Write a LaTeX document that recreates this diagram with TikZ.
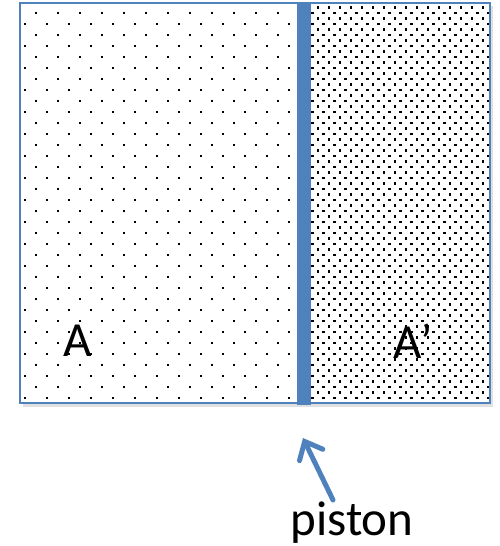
\documentclass[tikz,border=0pt]{standalone}
\usepackage{fontspec}
\setmainfont{Carlito}
\usetikzlibrary{arrows.meta}
\definecolor{offblue}{HTML}{4F81BD}
\tikzset{
  box/.style={draw=offblue, line width=1.5pt},
  dotmark/.style={fill=black},
  lbl/.style={font=\fontsize{49}{56}\selectfont, inner sep=0pt},
  ptr/.style={draw=offblue, line width=5pt, line cap=round, -{Straight Barb[length=15pt,width=26pt,line cap=round]}}
}
\begin{document}
\begin{tikzpicture}[x=1pt,y=-1pt]
\useasboundingbox (0,0) rectangle (500,546);
% shadow
\fill[black!12] (23,6) rectangle (493,407);
\fill[white] (20,3) rectangle (490,403);
% left sparse dots
\begin{scope}
\clip (20,3) rectangle (297,403);
\foreach \k in {0,...,35} {
  \pgfmathsetmacro{\yy}{13+11*\k}
  \pgfmathsetmacro{\xo}{mod(\k,2)==0 ? 36 : 25}
  \foreach \i in {0,...,13} {
    \fill[dotmark] ({\xo+22*\i-1.2},{\yy-1.2}) rectangle ++(2.4,2.4);
  }
}
\end{scope}
% right dense dots
\begin{scope}
\clip (311,3) rectangle (490,403);
\foreach \k in {0,...,72} {
  \pgfmathsetmacro{\yy}{7.3+5.5*\k}
  \pgfmathsetmacro{\xo}{mod(\k,2)==0 ? 318 : 312.5}
  \foreach \i in {0,...,17} {
    \fill[dotmark] ({\xo+11*\i-1.2},{\yy-1.2}) rectangle ++(2.4,2.4);
  }
}
\end{scope}
\draw[box] (20,3) rectangle (490,403);
% piston
\fill[offblue] (297,3) rectangle (311,405);
\node[lbl] (A) at (78,341) {A};
\node[lbl] (Ap) at (413,341) {A’};
\node[lbl, anchor=base] (piston) at (352,535) {piston};
\coordinate (tail) at (333,500);
\coordinate (tip) at (303,438);
\draw[ptr] (tail) -- (tip);
\end{tikzpicture}
\end{document}
